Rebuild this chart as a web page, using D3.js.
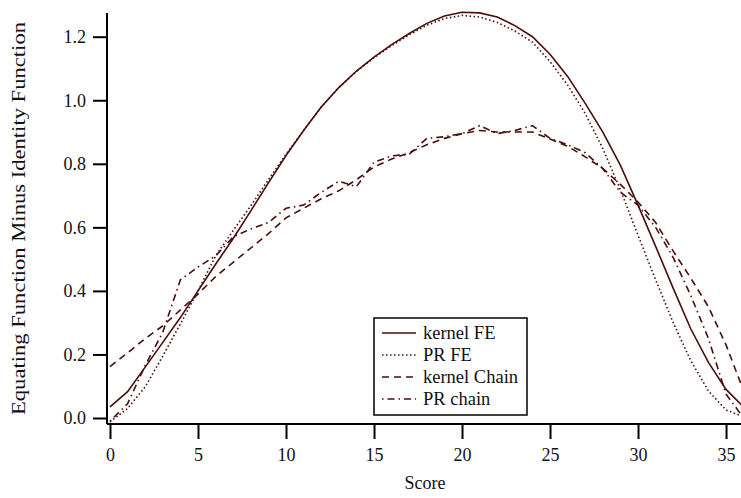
<!DOCTYPE html>
<html lang="en">
<head>
<meta charset="UTF-8">
<title>Equating Function Minus Identity Function</title>
<script src="https://d3js.org/d3.v7.min.js"></script>
<style>
  body { margin: 0; background: #fff; }
  svg { display: block; }
  svg text { font-family: "Liberation Serif", "Times New Roman", serif; fill: #111; }
  .axis path, .axis line { stroke: #000; stroke-width: 2px; }
  .axis text { font-size: 18px; }
  .curve { fill: none; stroke: #4a0c0c; stroke-width: 1.6px; }
</style>
</head>
<body>
<svg id="chart" width="741" height="498"></svg>
<script>
// scores 0..36
const scores = d3.range(0, 37);

const kernelFE = [0.035, 0.083, 0.160, 0.238, 0.316, 0.400, 0.484, 0.565, 0.652, 0.740,
  0.826, 0.905, 0.979, 1.040, 1.092, 1.136, 1.175, 1.210, 1.242, 1.265,
  1.277, 1.275, 1.262, 1.235, 1.200, 1.145, 1.075, 0.990, 0.900, 0.795,
  0.670, 0.540, 0.408, 0.280, 0.175, 0.090, 0.035];

const prFE = [-0.012, 0.030, 0.098, 0.195, 0.296, 0.400, 0.510, 0.590, 0.668, 0.750,
  0.830, 0.905, 0.978, 1.040, 1.090, 1.134, 1.172, 1.206, 1.236, 1.257,
  1.267, 1.262, 1.245, 1.218, 1.183, 1.122, 1.048, 0.958, 0.848, 0.718,
  0.575, 0.435, 0.300, 0.180, 0.085, 0.025, 0.004];

const kernelChain = [0.162, 0.205, 0.250, 0.290, 0.340, 0.390, 0.445, 0.490, 0.535, 0.580,
  0.630, 0.660, 0.690, 0.715, 0.750, 0.790, 0.815, 0.835, 0.860, 0.880,
  0.895, 0.905, 0.900, 0.900, 0.900, 0.878, 0.855, 0.822, 0.785, 0.735,
  0.680, 0.615, 0.525, 0.440, 0.350, 0.230, 0.085];

const prChain = [-0.010, 0.045, 0.165, 0.270, 0.435, 0.475, 0.510, 0.570, 0.595, 0.615,
  0.660, 0.670, 0.710, 0.745, 0.728, 0.805, 0.825, 0.830, 0.880, 0.885,
  0.895, 0.920, 0.895, 0.905, 0.920, 0.880, 0.860, 0.835, 0.785, 0.710,
  0.670, 0.600, 0.505, 0.385, 0.250, 0.075, 0.000];

const seriesNames = ["kernel FE", "PR FE", "kernel Chain", "PR chain"];
const seriesDash = ["none", "1.5,2.5", "7,5", "1.5,4,7,4"];
const seriesData = [kernelFE, prFE, kernelChain, prChain];

const xTicks = [0, 5, 10, 15, 20, 25, 30, 35];
const yTicks = [0.0, 0.2, 0.4, 0.6, 0.8, 1.0, 1.2];

const svg = d3.select("#chart");

const x = d3.scaleLinear().domain([-0.17, 35.85]).range([107, 741]);
const y = d3.scaleLinear().domain([-0.0189, 1.2746]).range([424, 13]);

svg.append("clipPath").attr("id", "plotclip")
  .append("rect").attr("x", 107).attr("y", 0).attr("width", 634).attr("height", 424);

const line = d3.line().x((d, i) => x(scores[i])).y(d => y(d));

const plot = svg.append("g").attr("clip-path", "url(#plotclip)");
seriesData.forEach((vals, k) => {
  plot.append("path")
    .attr("class", "curve")
    .attr("d", line(vals))
    .attr("stroke-dasharray", seriesDash[k]);
});

// axes
svg.append("g")
  .attr("class", "axis")
  .attr("transform", "translate(0,424)")
  .call(d3.axisBottom(x).tickValues(xTicks).tickSize(15).tickPadding(9).tickSizeOuter(0))
  .call(g => g.select(".domain").attr("d", "M107,0H741"));

svg.append("g")
  .attr("class", "axis")
  .attr("transform", "translate(107,0)")
  .call(d3.axisLeft(y).tickValues(yTicks).tickFormat(d3.format(".1f")).tickSize(14).tickPadding(7).tickSizeOuter(0))
  .call(g => g.select(".domain").attr("d", "M0,13V424"));

// axis titles
svg.append("text")
  .attr("x", 425).attr("y", 489)
  .attr("text-anchor", "middle")
  .style("font-size", "18px")
  .text("Score");

svg.append("text")
  .attr("transform", "translate(25,218.5) rotate(-90)")
  .attr("text-anchor", "middle")
  .attr("textLength", 393)
  .attr("lengthAdjust", "spacingAndGlyphs")
  .style("font-size", "18px")
  .text("Equating Function Minus Identity Function");

// legend
const legend = svg.append("g");
legend.append("rect")
  .attr("x", 374).attr("y", 318).attr("width", 153).attr("height", 97)
  .attr("fill", "#fff").attr("stroke", "#000").attr("stroke-width", 1.5);

const rowY = [333, 355, 377, 399];
seriesNames.forEach((name, k) => {
  legend.append("line")
    .attr("x1", 382).attr("x2", 416)
    .attr("y1", rowY[k]).attr("y2", rowY[k])
    .attr("stroke", "#4a0c0c").attr("stroke-width", 1.6)
    .attr("stroke-dasharray", seriesDash[k]);
  legend.append("text")
    .attr("x", 423).attr("y", rowY[k])
    .attr("dy", "0.35em")
    .style("font-size", "18.5px")
    .text(name);
});
</script>
</body>
</html>
